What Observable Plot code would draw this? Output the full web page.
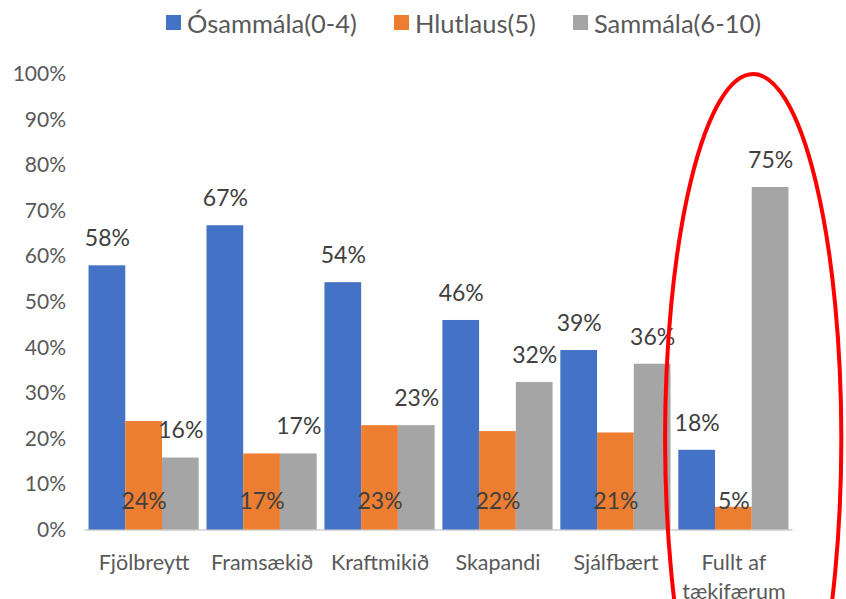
<!DOCTYPE html>
<html><head><meta charset="utf-8">
<script src="https://cdn.jsdelivr.net/npm/d3@7"></script>
<script src="https://cdn.jsdelivr.net/npm/@observablehq/plot@0.6"></script>
<style>
body{margin:0;background:#fff;font-family:Lato,sans-serif;}
#legend{height:45px;display:flex;align-items:center;padding-left:166px;font-size:25.5px;color:#595959;}
.item{display:flex;align-items:center;margin-right:37px;}
.sw{width:15px;height:15px;margin-right:6px;}
</style></head><body>
<div id="legend"></div>
<div id="chart"></div>
<script>
const categories = ["Fjölbreytt","Framsækið","Kraftmikið","Skapandi","Sjálfbært","Fullt af\ntækifærum"];
const series = ["Ósammála(0-4)","Hlutlaus(5)","Sammála(6-10)"];
const colors = ["#4472C4","#ED7D31","#A5A5A5"];
const osammala = [58, 66.8, 54.3, 46, 39.4, 17.5];
const hlutlaus = [23.8, 16.7, 22.9, 21.6, 21.3, 5];
const sammala = [15.8, 16.7, 22.9, 32.4, 36.4, 75.2];
const yTicks = [0, 10, 20, 30, 40, 50, 60, 70, 80, 90, 100];
const highlighted = "Fullt af\ntækifærum";

const seriesValues = [osammala, hlutlaus, sammala];
const rows = [];
categories.forEach((c, i) => series.forEach((s, j) => rows.push({cat: c, series: s, value: seriesValues[j][i]})));

// legend
const legend = d3.select("#legend");
series.forEach((s, j) => {
  const it = legend.append("div").attr("class", "item");
  it.append("div").attr("class", "sw").style("background", colors[j]);
  it.append("span").text(s);
});

const fmt = d => Math.round(d.value) + "%";
const chart = Plot.plot({
  width: 846, height: 554,
  marginTop: 29, marginBottom: 69.5, marginLeft: 85, marginRight: 54,
  style: {fontFamily: "Lato, sans-serif", background: "#fff"},
  fx: {domain: categories, paddingInner: 0.066, paddingOuter: 0.03, round: false, label: null},
  x: {domain: series, padding: 0, round: false, axis: null},
  y: {domain: [0, 100], label: null},
  color: {domain: series, range: colors},
  marks: [
    Plot.axisY({ticks: yTicks, tickFormat: d => d + "%", tickSize: 0, tickPadding: 23, fontSize: 21, fill: "#595959", label: null}),
    Plot.axisFx({anchor: "bottom", tickSize: 0, tickPadding: 19, fontSize: 21.5, fill: "#595959", lineHeight: 1.35, label: null}),
    Plot.ruleY([0], {stroke: "#d9d9d9", strokeWidth: 2, insetLeft: -4, insetRight: -4}),
    Plot.barY(rows, {fx: "cat", x: "series", y: "value", fill: "series"}),
    Plot.text(rows.filter(d => d.series !== series[1]), {fx: "cat", x: "series", y: "value", text: fmt, dy: -27, fontSize: 23, fill: "#404040"}),
    Plot.text(rows.filter(d => d.series === series[1]), {fx: "cat", x: "series", y: () => 0, text: fmt, dy: -28, fontSize: 23, fill: "#404040"})
  ]
});
document.getElementById("chart").appendChild(chart);

// red annotation ellipse around the highlighted category
const fxs = chart.scale("fx"), ys = chart.scale("y");
const cx = fxs.apply(highlighted) + fxs.bandwidth * 0.68;
const cy = ys.apply(20);
d3.select(chart).append("ellipse")
  .attr("cx", cx).attr("cy", cy)
  .attr("rx", fxs.bandwidth * 0.8).attr("ry", cy - ys.apply(100))
  .attr("fill", "none").attr("stroke", "#FF0000").attr("stroke-width", 4);
</script>
</body></html>
